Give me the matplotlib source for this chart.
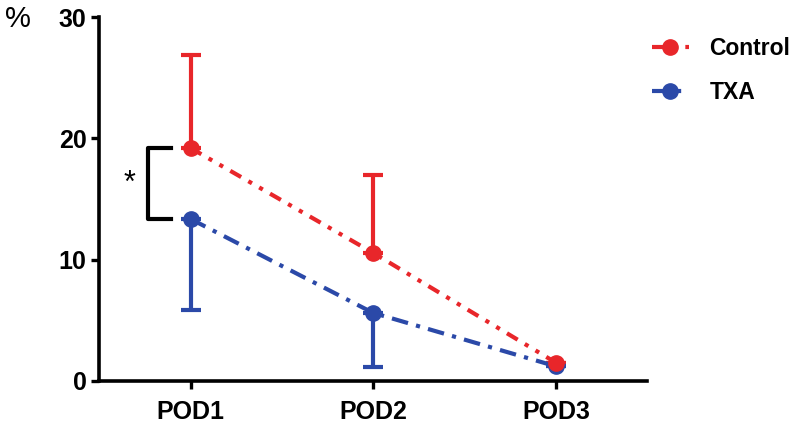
import numpy as np
import matplotlib.pyplot as plt

plt.rcParams['font.family'] = ['Liberation Sans', 'DejaVu Sans']
plt.rcParams['font.weight'] = 'bold'

# data
days = ["POD1", "POD2", "POD3"]
control_mean = [19.2, 10.55, 1.5]
control_sd = [7.7, 6.45, 0.0]
txa_mean = [13.35, 5.6, 1.2]
txa_sd = [7.5, 4.45, 0.0]

red = '#e8262a'
blue = '#2b49a8'

fig = plt.figure(figsize=(8, 4.26), dpi=100)
ax = fig.add_axes([0.124, 0.106, 0.685, 0.854])
x = np.arange(len(days))

# error bars: control up only, TXA down only
ax.errorbar(x, control_mean, yerr=[np.zeros(3), control_sd], fmt='none',
            ecolor=red, elinewidth=3, capsize=7, capthick=3, zorder=2)
ax.errorbar(x, txa_mean, yerr=[txa_sd, np.zeros(3)], fmt='none',
            ecolor=blue, elinewidth=3, capsize=7, capthick=3, zorder=2)

ax.plot(x, txa_mean, color=blue, lw=3, ls=(0, (4, 2, 1, 2)),
        marker='o', ms=11, label='TXA', zorder=3)
ax.plot(x, control_mean, color=red, lw=3, ls=(0, (3, 2, 1, 2, 1, 2)),
        marker='o', ms=11, label='Control', zorder=4)

# significance bracket
ax.plot([-0.105, -0.235, -0.235, -0.105],
        [control_mean[0], control_mean[0], txa_mean[0], txa_mean[0]],
        color='black', lw=3, clip_on=False)
ax.text(-0.335, (control_mean[0] + txa_mean[0]) / 2, '*', fontsize=22,
        ha='center', va='center', fontweight='normal')

ax.set_xlim(-0.5, 2.5)
ax.set_ylim(0, 30)
ax.set_yticks([0, 10, 20, 30])
ax.set_xticks(x)
ax.set_xticklabels(days)
ax.tick_params(labelsize=18, width=2.4, length=6, pad=3)
ax.tick_params(axis='x', pad=8)
for s in ['top', 'right']:
    ax.spines[s].set_visible(False)
for s in ['left', 'bottom']:
    ax.spines[s].set_linewidth(2.6)

fig.text(0.006, 0.955, '%', fontsize=21, fontweight='normal', va='center')

h, l = ax.get_legend_handles_labels()
ax.legend(h[::-1], l[::-1], loc='upper left', bbox_to_anchor=(0.992, 0.97),
          frameon=False, fontsize=16.5, handlelength=1.6, labelspacing=0.9,
          handletextpad=0.9, borderaxespad=0)

fig.savefig('out.png', dpi=100)
